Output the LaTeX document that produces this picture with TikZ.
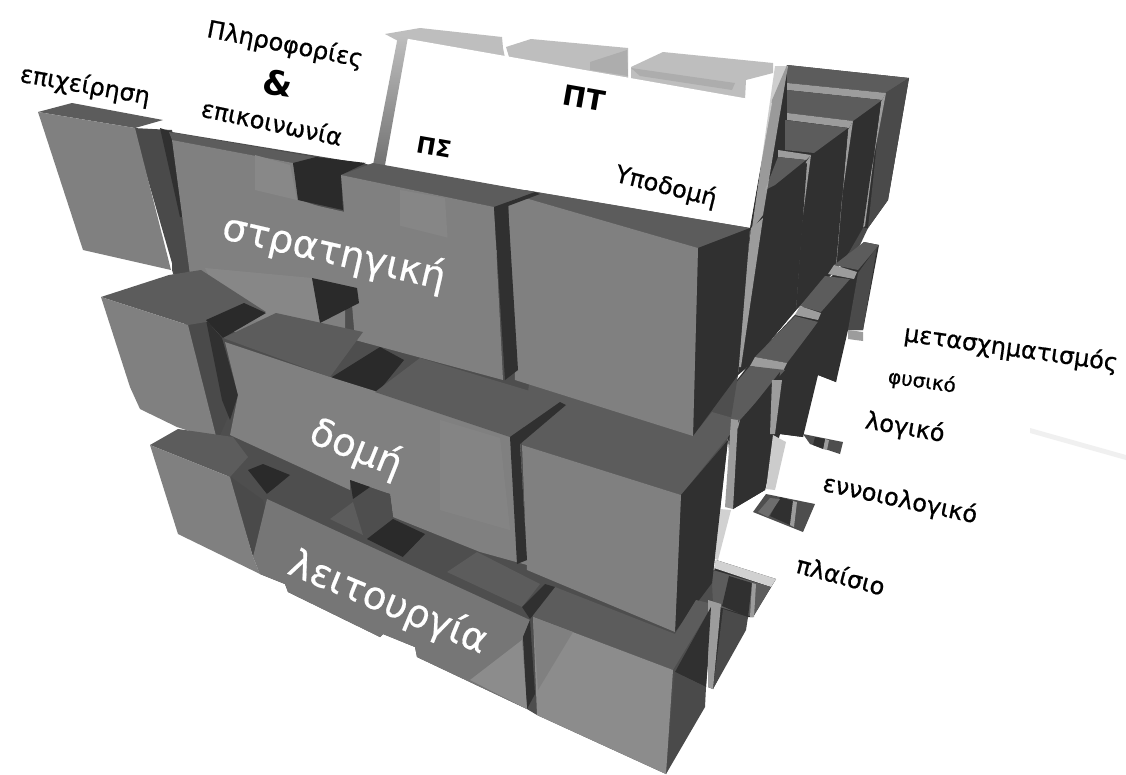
\documentclass[tikz,border=0pt]{standalone}
\usepackage{fontspec}
\setmainfont{DejaVu Sans}
\newfontfamily\lblf[FakeBold=0.7]{DejaVu Sans}
\newfontfamily\bigf[FakeBold=0.5]{DejaVu Sans}
\definecolor{fce}{HTML}{808080}
\definecolor{fcl}{HTML}{8C8C8C}
\definecolor{tp}{HTML}{5C5C5C}
\definecolor{tpd}{HTML}{4E4E4E}
\definecolor{sd}{HTML}{303030}
\definecolor{sdm}{HTML}{4A4A4A}
\definecolor{dk}{HTML}{2A2A2A}
\definecolor{lg}{HTML}{9C9C9C}
\definecolor{gh}{HTML}{BEBEBE}
\definecolor{ghl}{HTML}{D2D2D2}
\tikzset{
 lbl/.style={text=black,inner sep=0pt,font=\lblf\fontsize{24}{25}\selectfont},
 big/.style={text=white,inner sep=0pt,font=\bigf\fontsize{38.5}{39}\selectfont},
 bld/.style={text=black,inner sep=0pt,font=\bfseries\fontsize{23}{23}\selectfont}
}
\begin{document}
\begin{tikzpicture}[x=1pt,y=-1pt]
\useasboundingbox (0,0) rectangle (1126,774);
\fill[white] (0,0) rectangle (1126,774);
% faint streak
\fill[black!6] (1030,428) -- (1126,455) -- (1126,460) -- (1030,433) -- cycle;
% ghost pieces on top
\fill[gh] (385,34) -- (420,28) -- (502,37) -- (503,48) -- (505,58) -- (400,42) -- cycle;
\fill[gh] (506,47) -- (531,39) -- (628,48) -- (628,78) -- (510,60) -- cycle;
\fill[gh] (631,67) -- (663,52) -- (773,63) -- (773,73) -- (746,80) -- (745,100) -- (631,80) -- cycle;
\fill[black!32] (631,68) -- (735,83) -- (732,90) -- (640,76) -- cycle;
\fill[black!32] (590,62) -- (627,50) -- (628,76) -- (590,70) -- cycle;
% underlay of the rear stacks
\fill[sd] (787,65) -- (909,78) -- (888,200) -- (868,228) -- (836,270) -- (796,310) -- (750,365) -- (738,375) -- (750,228) -- (772,100) -- cycle;
\fill[sd] (755,357) -- (864,242) -- (879,245) -- (863,330) -- (848,330) -- (836,382) -- (818,375) -- (803,437) -- (780,434) -- (765,490) -- (733,509) -- (728,437) -- (712,412) -- cycle;
\fill[sd] (716,560) -- (776,579) -- (753,617) -- (748,617) -- (713,689) -- (708,687) -- (712,583) -- cycle;
% rear stack, top row
\fill[tp] (787,65) -- (909,78) -- (886,93) -- (787,83) -- cycle;
\fill[sdm] (909,78) -- (888,200) -- (868,228) -- (882,95) -- cycle;
\fill[lg] (787,83) -- (886,93) -- (882,100) -- (787,90) -- cycle;
\fill[lg] (886,93) -- (881,102) -- (865,226) -- (860,230) -- cycle;
\fill[tp] (787,90) -- (882,100) -- (853,121) -- (787,113) -- cycle;
\fill[sd] (881,102) -- (854,123) -- (834,265) -- (863,228) -- cycle;
\fill[sdm] (863,228) -- (868,228) -- (860,245) -- (840,268) -- cycle;
\fill[lg] (787,113) -- (853,121) -- (849,128) -- (787,120) -- cycle;
\fill[lg] (853,121) -- (848,130) -- (836,270) -- (832,266) -- cycle;
\fill[tp] (785,120) -- (848,128) -- (814,153) -- (785,150) -- cycle;
\fill[sd] (848,130) -- (814,155) -- (796,305) -- (836,265) -- cycle;
\fill[lg] (778,150) -- (811,155) -- (806,160) -- (778,157) -- cycle;
\fill[lg] (811,155) -- (806,162) -- (796,308) -- (791,305) -- cycle;
\fill[tp] (778,157) -- (806,160) -- (775,185) -- (765,190) -- cycle;
\fill[sd] (807,163) -- (775,187) -- (750,365) -- (796,310) -- cycle;
% rear stack, middle row
\fill[tp] (864,242) -- (879,245) -- (858,270) -- (834,265) -- cycle;
\fill[sdm] (877,247) -- (858,273) -- (848,330) -- (863,330) -- cycle;
\fill[lg] (848,330) -- (863,332) -- (863,341) -- (848,339) -- cycle;
\fill[lg] (834,265) -- (857,272) -- (854,279) -- (828,274) -- cycle;
\fill[tp] (825,276) -- (850,279) -- (821,312) -- (800,306) -- cycle;
\fill[sd] (850,283) -- (825,320) -- (818,375) -- (836,382) -- cycle;
\fill[lg] (800,306) -- (821,313) -- (818,320) -- (795,315) -- cycle;
\fill[tp] (795,316) -- (818,322) -- (787,363) -- (755,357) -- cycle;
\fill[sd] (818,322) -- (789,365) -- (780,434) -- (803,437) -- cycle;
\fill[tpd] (803,434) -- (843,442) -- (840,454) -- (810,444) -- cycle;
\fill[lg] (825,439) -- (829,440) -- (827,450) -- (823,449) -- cycle;
\fill[sd] (815,437) -- (825,439) -- (823,449) -- (813,445) -- cycle;
\fill[lg] (755,357) -- (787,363) -- (783,371) -- (750,366) -- cycle;
\fill[tp] (750,366) -- (785,370) -- (740,420) -- (710,414) -- cycle;
\fill[lg] (710,414) -- (740,420) -- (738,428) -- (703,421) -- cycle;
\fill[sd] (780,372) -- (742,420) -- (733,509) -- (765,490) -- cycle;
\fill[lg] (772,380) -- (782,380) -- (775,434) -- (770,434) -- cycle;
\fill[black!20] (773,435) -- (786,442) -- (775,490) -- (766,489) -- cycle;
\fill[tpd] (766,494) -- (815,504) -- (803,532) -- (753,512) -- cycle;
\fill[sd] (780,497) -- (793,501) -- (790,525) -- (770,516) -- cycle;
\fill[lg] (793,501) -- (797,502) -- (794,527) -- (790,525) -- cycle;
\fill[fce!85!black] (770,498) -- (780,499) -- (768,517) -- (758,512) -- cycle;
% rear stack, lower row
\fill[black!18] (716,560) -- (776,579) -- (771,587) -- (714,568) -- cycle;
\fill[tp] (713,570) -- (771,587) -- (753,617) -- (696,600) -- cycle;
\fill[sd] (729,576) -- (752,583) -- (748,617) -- (722,606) -- cycle;
\fill[lg] (752,583) -- (756,584) -- (754,617) -- (750,617) -- cycle;
\fill[sdm] (723,609) -- (748,617) -- (746,630) -- (713,689) -- cycle;
% white panel
\fill[white] (403,38) -- (772,103) -- (749,230) -- (383,165) -- cycle;
% light strips round panel
\shade[top color=gh,bottom color=black!55] (398,36) -- (408,37) -- (385,165) -- (373,165) -- cycle;
\fill[gh,opacity=.75] (775,66) -- (788,66) -- (763,215) -- (750,232) -- (752,228) -- cycle;
\fill[lg] (751,228) -- (763,218) -- (741,367) -- (735,367) -- cycle;
% mass underlay
\fill[tpd] (172,132) -- (535,192) -- (750,228) -- (738,375) -- (728,437) -- (712,583) -- (713,604) -- (706,687) -- (666,774) -- (537,715) -- (527,709) -- (417,657) -- (415,647) -- (383,634) -- (380,637) -- (288,592) -- (285,584) -- (260,574) -- (230,477) -- (217,440) -- (190,325) -- (172,270) -- cycle;
% middle row top, behind the top block
\fill[tp] (530,375) -- (728,437) -- (681,495) -- (522,445) -- cycle;
\fill[tp] (693,436) -- (712,412) -- (740,420) -- (728,437) -- cycle;
% front block, top row, right
\fill[tp] (525,190) -- (750,228) -- (698,248) -- (508,193) -- cycle;
\fill[sd] (750,228) -- (698,248) -- (693,436) -- (738,375) -- cycle;
\fill[fce] (508,193) -- (698,248) -- (693,436) -- (515,380) -- cycle;
\fill[lg] (731,419) -- (738,420) -- (733,509) -- (725,507) -- cycle;
\fill[black!18] (720,509) -- (731,510) -- (718,560) -- (713,558) -- cycle;
\fill[sd] (728,440) -- (681,495) -- (675,632) -- (712,583) -- cycle;
\fill[fce] (522,445) -- (681,495) -- (675,632) -- (527,570) -- cycle;
% lower front block
\fill[tp] (530,600) -- (555,587) -- (675,634) -- (696,600) -- (713,604) -- (673,670) -- (533,617) -- cycle;
\fill[lg] (708,600) -- (721,604) -- (713,689) -- (708,687) -- cycle;
\fill[sd] (711,607) -- (675,672) -- (706,687) -- cycle;
\fill[sdm] (675,672) -- (706,687) -- (705,707) -- (666,774) -- cycle;
\fill[fcl] (533,617) -- (673,670) -- (666,774) -- (537,715) -- cycle;
\fill[fce] (533,617) -- (573,632) -- (538,690) -- cycle;
% left column: top row
\fill[sdm] (133,128) -- (172,130) -- (200,265) -- (176,277) -- cycle;
\fill[sd] (160,128) -- (172,132) -- (188,217) -- (180,217) -- cycle;
\fill[tp] (38,112) -- (72,103) -- (163,120) -- (135,128) -- cycle;
\fill[fce] (38,112) -- (135,128) -- (171,270) -- (83,250) -- cycle;
% second block, top row
\fill[tp] (169,132) -- (320,158) -- (293,163) -- (172,140) -- cycle;
\fill[fce] (172,140) -- (293,163) -- (300,200) -- (345,215) -- (345,345) -- (325,370) -- (230,330) -- (190,275) -- cycle;
\fill[fcl!70!fce] (255,155) -- (290,165) -- (297,200) -- (255,190) -- cycle;
% dark gap
\fill[dk] (293,163) -- (316,157) -- (366,163) -- (341,175) -- (343,210) -- (298,200) -- cycle;
% third block, top row
\fill[tp] (341,175) -- (373,163) -- (535,192) -- (494,207) -- cycle;
\fill[fce] (341,175) -- (494,207) -- (503,380) -- (355,340) -- cycle;
\fill[fcl,opacity=.5] (400,190) -- (445,198) -- (448,245) -- (400,232) -- cycle;
% stratigiki panel
\fill[fce] (212,182) -- (345,212) -- (497,250) -- (490,340) -- (360,310) -- (312,278) -- (201,267) -- (205,225) -- cycle;
\fill[fcl,opacity=.6] (205,268) -- (312,278) -- (320,322) -- (230,320) -- cycle;
\fill[dk] (312,278) -- (357,288) -- (359,303) -- (320,323) -- cycle;
% stripe front
\fill[sd] (494,207) -- (535,192) -- (540,194) -- (508,206) -- (518,370) -- (505,380) -- cycle;
% left column: middle row
\fill[sdm] (184,323) -- (206,320) -- (237,395) -- (232,408) -- (217,442) -- cycle;
\fill[sd] (206,320) -- (222,338) -- (238,395) -- (230,420) -- (222,400) -- cycle;
\fill[tp] (101,297) -- (169,275) -- (201,270) -- (266,312) -- (188,325) -- cycle;
\fill[fce] (101,297) -- (188,325) -- (217,440) -- (177,427) -- (140,409) -- (130,387) -- cycle;
\fill[dk] (206,320) -- (244,303) -- (266,313) -- (223,338) -- cycle;
% middle block 2
\fill[tp] (223,338) -- (276,313) -- (363,332) -- (330,377) -- cycle;
\fill[dk] (332,377) -- (380,347) -- (404,360) -- (378,392) -- (377,410) -- (340,395) -- cycle;
% dark corner between
\fill[fce] (225,342) -- (330,377) -- (378,392) -- (520,440) -- (527,565) -- (480,552) -- (393,517) -- (390,494) -- (370,487) -- (350,480) -- (350,490) -- (230,435) -- (238,395) -- cycle;
% middle block 3 top
\fill[tp] (375,392) -- (420,358) -- (560,400) -- (510,437) -- cycle;
\fill[sd] (560,402) -- (510,437) -- (517,564) -- (527,560) -- (520,444) -- (566,405) -- cycle;
\fill[dk] (350,480) -- (370,487) -- (353,499) -- cycle;
\fill[fcl,opacity=.4] (440,420) -- (500,438) -- (510,530) -- (440,510) -- cycle;
% lower row
\fill[tpd] (353,502) -- (375,490) -- (390,494) -- (393,517) -- (363,535) -- cycle;
\fill[sdm] (228,475) -- (263,500) -- (270,524) -- (253,557) -- cycle;
\fill[dk] (248,470) -- (263,464) -- (290,475) -- (267,494) -- cycle;
\fill[tpd] (267,494) -- (290,477) -- (347,502) -- (330,519) -- cycle;
\fill[tp] (330,519) -- (353,502) -- (363,535) -- cycle;
\fill[dk] (367,539) -- (393,519) -- (425,534) -- (403,557) -- cycle;
\fill[tpd] (403,557) -- (425,535) -- (463,557) -- (447,572) -- cycle;
\fill[tp] (447,572) -- (477,552) -- (540,584) -- (522,607) -- cycle;
\fill[sd] (522,607) -- (545,584) -- (555,587) -- (530,619) -- cycle;
\fill[tp] (150,445) -- (178,429) -- (233,437) -- (248,457) -- (230,477) -- cycle;
\fill[fce] (150,445) -- (230,477) -- (253,557) -- (260,574) -- (178,534) -- cycle;
% leitourgia panel
\fill[fce!92!black] (267,499) -- (530,620) -- (523,637) -- (527,709) -- (417,657) -- (415,647) -- (383,634) -- (380,637) -- (288,592) -- (285,584) -- (260,574) -- (253,557) -- cycle;
\fill[sd] (523,637) -- (530,620) -- (535,694) -- (527,709) -- cycle;
\fill[fcl] (470,680) -- (522,640) -- (527,709) -- cycle;
% labels
\node[lbl,rotate=-10] (l1) at (85,86) {επιχείρηση};
\node[lbl,rotate=-11] (l2) at (285,45) {Πληροφορίες};
\node[bld,rotate=-8,font=\bfseries\fontsize{34}{34}\selectfont] (l3) at (278,83) {\&};
\node[lbl,rotate=-12] (l4) at (272,122) {επικοινωνία};
\node[bld,rotate=-10] (l5) at (434,147) {ΠΣ};
\node[bld,rotate=-10,font=\bfseries\fontsize{28}{28}\selectfont] (l6) at (584,98) {ΠΤ};
\node[lbl,rotate=-14] (l7) at (666,187) {Υποδομή};
\node[lbl,rotate=-8] (l8) at (1011,349) {μετασχηματισμός};
\node[lbl,rotate=-8,font=\lblf\fontsize{20}{20}\selectfont] (l9) at (922,382) {φυσικό};
\node[lbl,rotate=-10] (l10) at (905,428) {λογικό};
\node[lbl,rotate=-12] (l11) at (900,500) {εννοιολογικό};
\node[lbl,rotate=-15] (l12) at (841,575) {πλαίσιο};
\node[big,rotate=-13] (b1) at (334,253) {στρατηγική};
\node[big,rotate=-22] (b2) at (356,449) {δομή};
\node[big,rotate=-22.5] (b3) at (388,603) {λειτουργία};
\end{tikzpicture}
\end{document}
